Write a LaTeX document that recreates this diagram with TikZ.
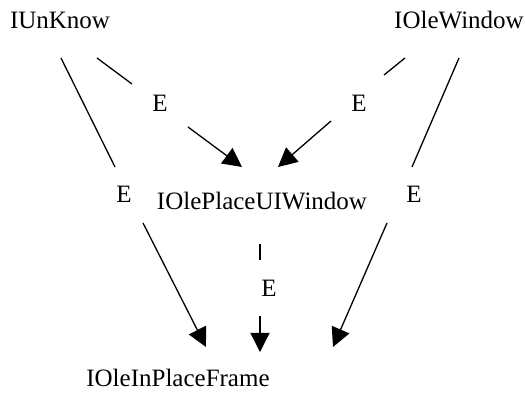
\documentclass[tikz,border=0pt]{standalone}
\usepackage{fontspec}
\setmainfont{Liberation Serif}
\usetikzlibrary{arrows.meta}
\begin{document}
\begin{tikzpicture}[x=1pt,y=-1pt,
  lbl/.style={inner sep=0pt,anchor=base,font=\fontsize{25}{29}\selectfont},
  seg/.style={line width=1.3pt},
  arr/.style={line width=1.3pt,-{Triangle[length=19pt,width=19pt]}}]
\useasboundingbox (0,0) rectangle (525,395);
% nodes
\node[lbl] (IUnKnow) at (60,29) {IUnKnow};
\node[lbl] (IOleWindow) at (459,29) {IOleWindow};
\node[lbl] (IOlePlaceUIWindow) at (262,210) {IOlePlaceUIWindow};
\node[lbl] (IOleInPlaceFrame) at (178,387) {IOleInPlaceFrame};
% edge labels
\node[lbl] (E1) at (160,112) {E};
\node[lbl] (E2) at (359,112) {E};
\node[lbl] (E3) at (124,203) {E};
\node[lbl] (E4) at (414,203) {E};
\node[lbl] (E5) at (269,297) {E};
% connector end points
\coordinate (e1s) at (97,58);  \coordinate (e1m) at (132,84);
\coordinate (e1n) at (188,127); \coordinate (e1t) at (242,167);
\coordinate (e2s) at (405,58); \coordinate (e2m) at (384,75);
\coordinate (e2n) at (331,121); \coordinate (e2t) at (278,167);
\coordinate (e3s) at (61,58);  \coordinate (e3m) at (115,167);
\coordinate (e3n) at (143,223); \coordinate (e3t) at (206,347);
\coordinate (e4s) at (459,58); \coordinate (e4m) at (412,167);
\coordinate (e4n) at (387,223); \coordinate (e4t) at (333,347);
\coordinate (e5s) at (260,244); \coordinate (e5m) at (260,260);
\coordinate (e5n) at (260,316); \coordinate (e5t) at (260,352);
% connectors
\draw[seg] (e1s) -- (e1m); \draw[arr] (e1n) -- (e1t);
\draw[seg] (e2s) -- (e2m); \draw[arr] (e2n) -- (e2t);
\draw[seg] (e3s) -- (e3m); \draw[arr] (e3n) -- (e3t);
\draw[seg] (e4s) -- (e4m); \draw[arr] (e4n) -- (e4t);
\draw[seg] (e5s) -- (e5m); \draw[arr] (e5n) -- (e5t);
\end{tikzpicture}
\end{document}
